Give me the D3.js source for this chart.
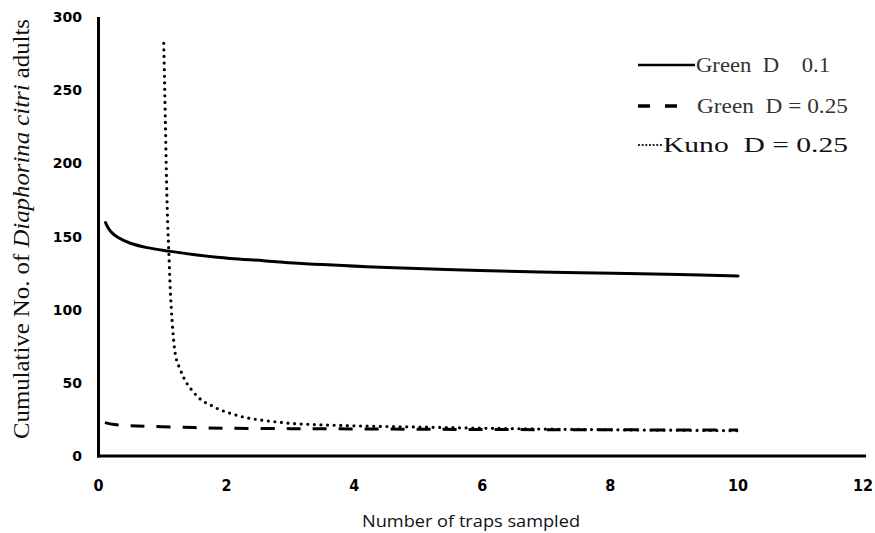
<!DOCTYPE html>
<html>
<head>
<meta charset="utf-8">
<script src="https://cdn.jsdelivr.net/npm/d3@7"></script>
<style>
  body { margin: 0; background: #fff; }
  svg { display: block; }
  .serif { font-family: "Liberation Serif", "Times New Roman", "DejaVu Serif", serif; }
</style>
</head>
<body>
<svg id="chart" width="875" height="533"></svg>
<script>
// values
var trapsSolid = [0.11, 0.15, 0.2, 0.3, 0.5, 0.76, 1.1, 1.54, 2.06, 2.58, 3.12, 4.4, 5.96, 7.52, 9.08, 10];
var greenD01 = [159.5, 156, 153, 149.5, 145.4, 142.4, 140, 137.4, 135, 133.5, 131.7, 129, 126.7, 125.3, 124, 123];

var trapsDashed = [0.1, 0.25, 0.6, 1, 1.5, 2, 3, 4, 5, 6, 7, 8, 9, 10];
var greenD025 = [22.8, 21.5, 20.5, 20, 19.4, 19, 18.7, 18.5, 18.3, 18.1, 18, 17.9, 17.8, 17.7];

var trapsDotted = [1.02, 1.045, 1.06, 1.08, 1.1, 1.12, 1.15, 1.2, 1.28, 1.39, 1.46, 1.54, 1.63, 1.75,
                   1.85, 2.06, 2.29, 2.53, 2.76, 3, 3.5, 4, 5, 6, 7, 8, 9, 10];
var kunoD025 = [282, 230, 196, 161, 139, 116, 93, 70, 59, 49, 45, 41, 37.6, 34.9,
                32.6, 29.2, 26.4, 24.6, 23.4, 22.3, 21.3, 20.6, 19.8, 19, 18.4, 17.9, 17.6, 17.3];

var xTicks = [0, 2, 4, 6, 8, 10, 12];
var yTicks = [0, 50, 100, 150, 200, 250, 300];
var legendLabels = ["Green  D    0.1", "Green  D = 0.25", "Kuno  D = 0.25"];

var svg = d3.select("#chart");

var x = d3.scaleLinear().domain([0, 12]).range([98.5, 866]);
var y = d3.scaleLinear().domain([0, 300]).range([456, 17]);

// y tick labels
svg.selectAll(".ytick")
   .data(yTicks)
   .enter()
   .append("text")
   .attr("class", "ytick")
   .attr("x", 82)
   .attr("y", function(d) { return y(d); })
   .attr("dy", "0.36em")
   .attr("text-anchor", "end")
   .attr("font-family", "DejaVu Sans")
   .attr("font-weight", "bold")
   .attr("font-size", 14)
   .text(function(d) { return d; });

// x tick labels
svg.selectAll(".xtick")
   .data(xTicks)
   .enter()
   .append("text")
   .attr("class", "xtick")
   .attr("x", function(d) { return x(d) - (d == 12 ? 3 : 0); })
   .attr("y", 491)
   .attr("text-anchor", "middle")
   .attr("font-family", "DejaVu Sans Condensed, DejaVu Sans")
   .attr("font-stretch", "condensed")
   .attr("font-weight", "bold")
   .attr("font-size", 16)
   .text(function(d) { return d; });

// axis titles
svg.append("text")
   .attr("x", 471)
   .attr("y", 527)
   .attr("text-anchor", "middle")
   .attr("font-family", "Open Sans")
   .attr("font-size", 16)
   .attr("textLength", 218)
   .attr("lengthAdjust", "spacingAndGlyphs")
   .attr("fill", "#111")
   .text("Number of traps sampled");

var yTitle = svg.append("text")
   .attr("class", "serif")
   .attr("transform", "translate(29,229) rotate(-90)")
   .attr("text-anchor", "middle")
   .attr("font-size", 24)
   .attr("textLength", 420)
   .attr("lengthAdjust", "spacingAndGlyphs")
   .attr("fill", "#111");
yTitle.append("tspan").text("Cumulative No. of ");
yTitle.append("tspan").attr("font-style", "italic").text("Diaphorina citri");
yTitle.append("tspan").text(" adults");

// axes
svg.append("line")
   .attr("x1", x(0)).attr("x2", x(0))
   .attr("y1", y(300)).attr("y2", y(0) + 1.5)
   .attr("stroke", "#000").attr("stroke-width", 3);
svg.append("line")
   .attr("x1", x(0) - 1.5).attr("x2", x(12))
   .attr("y1", y(0)).attr("y2", y(0))
   .attr("stroke", "#000").attr("stroke-width", 3);

function drawSeries(xs, ys, dash, width, cap, curve) {
  var pts = xs.map(function(d, i) { return [d, ys[i]]; });
  var line = d3.line()
               .x(function(d) { return x(d[0]); })
               .y(function(d) { return y(d[1]); })
               .curve(curve);
  svg.append("path")
     .datum(pts)
     .attr("d", line)
     .attr("fill", "none")
     .attr("stroke", "#000")
     .attr("stroke-width", width)
     .attr("stroke-linecap", cap)
     .attr("stroke-dasharray", dash);
}

drawSeries(trapsSolid, greenD01, null, 3, "round", d3.curveCatmullRom);
drawSeries(trapsDashed, greenD025, "14 12", 3, "butt", d3.curveCatmullRom);
drawSeries(trapsDotted, kunoD025, "0 6.6", 3.2, "round", d3.curveMonotoneX);

// legend
var legendY = [65, 106, 145];
var legendTextX = [696, 697, 663];
var legendTextEnd = [830, 848, 848];

svg.append("line")
   .attr("x1", 638).attr("x2", 695)
   .attr("y1", legendY[0]).attr("y2", legendY[0])
   .attr("stroke", "#000").attr("stroke-width", 2.5);
svg.append("line")
   .attr("x1", 638).attr("x2", 678)
   .attr("y1", legendY[1]).attr("y2", legendY[1])
   .attr("stroke", "#000").attr("stroke-width", 3.5)
   .attr("stroke-dasharray", "12 15");
svg.append("line")
   .attr("x1", 639).attr("x2", 661)
   .attr("y1", legendY[2]).attr("y2", legendY[2])
   .attr("stroke", "#000").attr("stroke-width", 2.2)
   .attr("stroke-linecap", "round")
   .attr("stroke-dasharray", "0 3.65");

svg.selectAll(".legend")
   .data(legendLabels)
   .enter()
   .append("text")
   .attr("class", "legend serif")
   .attr("x", function(d, i) { return legendTextX[i]; })
   .attr("y", function(d, i) { return legendY[i]; })
   .attr("dy", "0.34em")
   .attr("font-size", 21)
   .attr("style", "white-space: pre")
   .attr("textLength", function(d, i) { return legendTextEnd[i] - legendTextX[i]; })
   .attr("lengthAdjust", "spacingAndGlyphs")
   .attr("fill", function(d, i) { return i == 2 ? "#111" : "#333"; })
   .text(function(d) { return d; });
</script>
</body>
</html>
